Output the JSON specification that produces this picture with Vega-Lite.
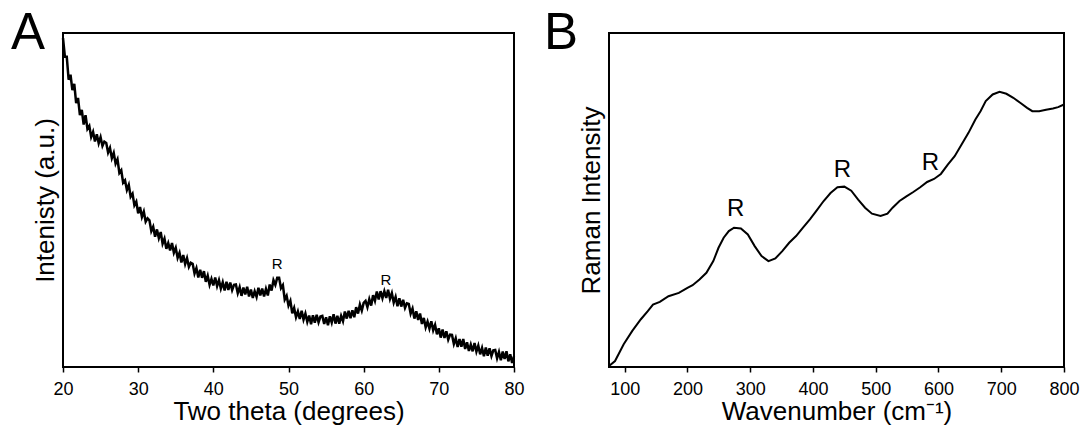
{
  "$schema": "https://vega.github.io/schema/vega-lite/v6.json",
  "padding": {"left": 10, "top": 7, "right": 5, "bottom": 5},
  "background": "white",
  "bounds": "flush",
  "spacing": 95,
  "config": {
    "font": "Liberation Sans",
    "view": {"stroke": "black", "strokeWidth": 2},
    "axis": {"labelFont": "Liberation Sans", "titleFont": "Liberation Sans", "labelColor": "black", "titleColor": "black", "titleFontWeight": "normal", "tickColor": "black", "tickWidth": 1.5, "domain": false, "grid": false, "labelFlush": false, "labelOverlap": false},
    "title": {"font": "Liberation Sans", "color": "black", "fontWeight": "normal"}
  },
  "hconcat": [
    {
      "width": 451,
      "height": 334,
      "title": {"text": "A", "fontSize": 51, "anchor": "start", "frame": "group", "baseline": "alphabetic", "offset": -53, "dx": -52, "dy": 14},
      "layer": [
        {
          "data": {"values": [
            {"t":20.00,"i":98.5},{"t":20.25,"i":92.9},{"t":20.50,"i":92.9},{"t":20.75,"i":86.0},{"t":21.00,"i":87.5},{"t":21.25,"i":82.9},{"t":21.50,"i":84.8},{"t":21.75,"i":79.0},{"t":22.00,"i":80.6},{"t":22.25,"i":75.4},{"t":22.50,"i":77.0},{"t":22.75,"i":72.6},{"t":23.00,"i":75.4},
            {"t":23.25,"i":71.3},{"t":23.50,"i":72.2},{"t":23.75,"i":68.9},{"t":24.00,"i":70.4},{"t":24.25,"i":67.5},{"t":24.50,"i":69.7},{"t":24.75,"i":67.0},{"t":25.00,"i":68.8},{"t":25.25,"i":66.2},{"t":25.50,"i":67.5},
            {"t":25.75,"i":67.1},{"t":26.00,"i":64.2},{"t":26.25,"i":65.6},{"t":26.50,"i":62.5},{"t":26.75,"i":64.1},{"t":27.00,"i":60.9},{"t":27.25,"i":62.2},{"t":27.50,"i":58.1},{"t":27.75,"i":58.9},{"t":28.00,"i":55.2},{"t":28.25,"i":55.9},{"t":28.50,"i":53.0},
            {"t":28.75,"i":54.5},{"t":29.00,"i":51.0},{"t":29.25,"i":51.9},{"t":29.50,"i":48.4},{"t":29.75,"i":49.5},{"t":30.00,"i":46.0},{"t":30.25,"i":47.9},{"t":30.50,"i":44.9},{"t":30.75,"i":46.5},{"t":31.00,"i":43.5},{"t":31.25,"i":44.5},
            {"t":31.50,"i":43.9},{"t":31.75,"i":40.7},{"t":32.00,"i":42.0},{"t":32.25,"i":39.0},{"t":32.50,"i":41.2},{"t":32.75,"i":38.6},{"t":33.00,"i":40.4},{"t":33.25,"i":36.9},{"t":33.50,"i":38.4},{"t":33.75,"i":35.4},{"t":34.00,"i":37.1},{"t":34.25,"i":34.9},
            {"t":34.50,"i":37.1},{"t":34.75,"i":34.2},{"t":35.00,"i":35.7},{"t":35.25,"i":32.7},{"t":35.50,"i":34.2},{"t":35.75,"i":31.3},{"t":36.00,"i":33.5},{"t":36.25,"i":30.8},{"t":36.50,"i":32.6},{"t":36.75,"i":30.0},{"t":37.00,"i":31.2},
            {"t":37.25,"i":30.9},{"t":37.50,"i":28.0},{"t":37.75,"i":29.6},{"t":38.00,"i":26.8},{"t":38.25,"i":29.1},{"t":38.50,"i":26.7},{"t":38.75,"i":28.7},{"t":39.00,"i":25.5},{"t":39.25,"i":27.3},{"t":39.50,"i":24.6},{"t":39.75,"i":26.4},{"t":40.00,"i":24.4},
            {"t":40.25,"i":26.8},{"t":40.50,"i":24.2},{"t":40.75,"i":26.0},{"t":41.00,"i":23.5},{"t":41.25,"i":25.4},{"t":41.50,"i":22.9},{"t":41.75,"i":25.5},{"t":42.00,"i":23.1},{"t":42.25,"i":25.3},{"t":42.50,"i":23.0},{"t":42.75,"i":24.6},
            {"t":43.00,"i":24.7},{"t":43.25,"i":22.1},{"t":43.50,"i":23.9},{"t":43.75,"i":21.3},{"t":44.00,"i":23.8},{"t":44.25,"i":21.7},{"t":44.50,"i":24.0},{"t":44.75,"i":21.1},{"t":45.00,"i":23.2},{"t":45.25,"i":20.7},{"t":45.50,"i":22.7},
            {"t":45.75,"i":21.0},{"t":46.00,"i":23.7},{"t":46.25,"i":21.4},{"t":46.50,"i":23.5},{"t":46.75,"i":21.1},{"t":47.00,"i":23.4},{"t":47.25,"i":21.4},{"t":47.50,"i":24.7},{"t":47.75,"i":22.9},{"t":48.00,"i":26.0},{"t":48.25,"i":24.6},{"t":48.50,"i":26.7},
            {"t":48.75,"i":26.7},{"t":49.00,"i":23.6},{"t":49.25,"i":24.5},{"t":49.50,"i":20.2},{"t":49.75,"i":21.3},{"t":50.00,"i":18.4},{"t":50.25,"i":19.8},{"t":50.50,"i":16.1},{"t":50.75,"i":17.7},{"t":51.00,"i":14.9},{"t":51.25,"i":16.6},
            {"t":51.50,"i":14.4},{"t":51.75,"i":16.8},{"t":52.00,"i":14.2},{"t":52.25,"i":16.0},{"t":52.50,"i":13.5},{"t":52.75,"i":15.4},{"t":53.00,"i":12.8},{"t":53.25,"i":15.5},{"t":53.50,"i":13.3},{"t":53.75,"i":15.6},{"t":54.00,"i":13.4},{"t":54.25,"i":15.1},
            {"t":54.50,"i":15.3},{"t":54.75,"i":12.9},{"t":55.00,"i":14.9},{"t":55.25,"i":12.5},{"t":55.50,"i":15.2},{"t":55.75,"i":13.3},{"t":56.00,"i":15.8},{"t":56.25,"i":13.0},{"t":56.50,"i":15.3},{"t":56.75,"i":13.0},{"t":57.00,"i":15.3},
            {"t":57.25,"i":13.7},{"t":57.50,"i":16.6},{"t":57.75,"i":14.5},{"t":58.00,"i":16.8},{"t":58.25,"i":14.6},{"t":58.50,"i":17.0},{"t":58.75,"i":14.9},{"t":59.00,"i":17.9},{"t":59.25,"i":16.0},{"t":59.50,"i":18.7},{"t":59.75,"i":16.9},{"t":60.00,"i":19.2},
            {"t":60.25,"i":19.8},{"t":60.50,"i":17.9},{"t":60.75,"i":20.3},{"t":61.00,"i":18.4},{"t":61.25,"i":21.5},{"t":61.50,"i":19.8},{"t":61.75,"i":22.6},{"t":62.00,"i":20.2},{"t":62.25,"i":22.7},{"t":62.50,"i":20.6},{"t":62.75,"i":22.7},
            {"t":63.00,"i":20.7},{"t":63.25,"i":23.1},{"t":63.50,"i":20.4},{"t":63.75,"i":22.1},{"t":64.00,"i":19.3},{"t":64.25,"i":21.0},{"t":64.50,"i":18.2},{"t":64.75,"i":20.6},{"t":65.00,"i":18.1},{"t":65.25,"i":20.1},{"t":65.50,"i":17.7},{"t":65.75,"i":19.1},
            {"t":66.00,"i":18.9},{"t":66.25,"i":16.0},{"t":66.50,"i":17.5},{"t":66.75,"i":14.5},{"t":67.00,"i":16.7},{"t":67.25,"i":14.1},{"t":67.50,"i":16.0},{"t":67.75,"i":12.9},{"t":68.00,"i":14.7},{"t":68.25,"i":11.9},{"t":68.50,"i":13.6},
            {"t":68.75,"i":11.5},{"t":69.00,"i":13.7},{"t":69.25,"i":11.0},{"t":69.50,"i":12.6},{"t":69.75,"i":9.8},{"t":70.00,"i":11.6},{"t":70.25,"i":8.8},{"t":70.50,"i":11.2},{"t":70.75,"i":8.7},{"t":71.00,"i":10.7},{"t":71.25,"i":8.2},{"t":71.50,"i":9.7},
            {"t":71.75,"i":9.6},{"t":72.00,"i":6.9},{"t":72.25,"i":8.6},{"t":72.50,"i":6.0},{"t":72.75,"i":8.4},{"t":73.00,"i":6.1},{"t":73.25,"i":8.4},{"t":73.50,"i":5.4},{"t":73.75,"i":7.4},{"t":74.00,"i":4.8},{"t":74.25,"i":6.7},{"t":74.50,"i":4.7},
            {"t":74.75,"i":7.2},{"t":75.00,"i":4.6},{"t":75.25,"i":6.4},{"t":75.50,"i":3.8},{"t":75.75,"i":5.7},{"t":76.00,"i":3.2},{"t":76.25,"i":5.8},{"t":76.50,"i":3.4},{"t":76.75,"i":5.6},{"t":77.00,"i":3.3},{"t":77.25,"i":5.0},
            {"t":77.50,"i":5.1},{"t":77.75,"i":2.6},{"t":78.00,"i":4.5},{"t":78.25,"i":2.0},{"t":78.50,"i":4.6},{"t":78.75,"i":2.4},{"t":79.00,"i":4.7},{"t":79.25,"i":1.7},{"t":79.50,"i":3.8},{"t":79.75,"i":1.2},{"t":80.00,"i":3.2}
          ]},
          "mark": {"type": "line", "color": "black", "strokeWidth": 2.5},
          "encoding": {
            "x": {"field": "t", "type": "quantitative", "scale": {"domain": [20, 80], "nice": false, "zero": false},
              "axis": {"title": "Two theta (degrees)", "titleFontSize": 26, "titlePadding": 0, "labelFontSize": 18, "labelPadding": 8,
                "values": [20,25,30,35,40,45,50,55,60,65,70,75,80],
                "labelExpr": "datum.value % 10 === 0 ? datum.label : ''",
                "tickSize": {"condition": {"test": "datum.value % 10 === 0", "value": 5}, "value": 3}}},
            "y": {"field": "i", "type": "quantitative", "scale": {"domain": [0, 100], "nice": false},
              "axis": {"title": "Intenisty (a.u.)", "titleFontSize": 26, "titlePadding": 5, "ticks": false, "labels": false}}
          }
        },
        {
          "data": {"values": [{"t": 48.5, "i": 30.9, "label": "R"}, {"t": 62.97, "i": 25.9, "label": "R"}]},
          "mark": {"type": "text", "fontSize": 15, "color": "black", "align": "center", "baseline": "middle"},
          "encoding": {
            "x": {"field": "t", "type": "quantitative"},
            "y": {"field": "i", "type": "quantitative"},
            "text": {"field": "label"}
          }
        }
      ]
    },
    {
      "width": 455,
      "height": 334,
      "title": {"text": "B", "fontSize": 51, "anchor": "start", "frame": "group", "baseline": "alphabetic", "offset": -53, "dx": -65, "dy": 14},
      "layer": [
        {
          "data": {"values": [
            {"w":75,"i":0.3},{"w":84.6,"i":1.8},{"w":98.4,"i":6.8},{"w":112.1,"i":10.8},{"w":125.8,"i":14.3},{"w":136.8,"i":16.7},{"w":145.1,"i":18.7},{"w":156,"i":19.5},{"w":169.8,"i":21.2},{"w":186.3,"i":22.2},
            {"w":200,"i":23.7},{"w":208.2,"i":24.5},{"w":219.2,"i":26.2},{"w":230.2,"i":28.2},{"w":241.2,"i":31.7},{"w":249.5,"i":35.7},{"w":257.7,"i":38.7},{"w":265.9,"i":40.7},{"w":274.2,"i":41.7},{"w":285.2,"i":41.5},
            {"w":296.2,"i":39.7},{"w":307.1,"i":36.2},{"w":318.1,"i":33.2},{"w":329.1,"i":31.7},{"w":340.1,"i":32.5},{"w":351.1,"i":34.7},{"w":362.1,"i":37.2},{"w":373.1,"i":39.2},{"w":384.1,"i":41.7},{"w":395.1,"i":44.2},
            {"w":406,"i":46.9},{"w":417,"i":49.7},{"w":428,"i":52.1},{"w":439,"i":53.8},{"w":450,"i":54.0},{"w":461,"i":52.8},{"w":472,"i":50.1},{"w":483,"i":47.7},{"w":494,"i":45.9},{"w":507.7,"i":45.2},
            {"w":518.7,"i":45.9},{"w":526.9,"i":47.7},{"w":537.9,"i":49.7},{"w":548.9,"i":51.1},{"w":559.9,"i":52.4},{"w":570.9,"i":53.8},{"w":581.9,"i":55.4},{"w":592.9,"i":56.3},{"w":603.8,"i":57.8},{"w":614.8,"i":60.6},
            {"w":625.8,"i":63.1},{"w":636.8,"i":66.6},{"w":647.8,"i":70.1},{"w":658.8,"i":74.1},{"w":667,"i":76.6},{"w":675.3,"i":79.6},{"w":686.3,"i":81.6},{"w":697.3,"i":82.4},{"w":708.2,"i":81.8},{"w":719.2,"i":80.6},
            {"w":730.2,"i":79.1},{"w":741.2,"i":77.6},{"w":749.5,"i":76.6},{"w":760.4,"i":76.6},{"w":771.4,"i":77.0},{"w":782.4,"i":77.4},{"w":790.7,"i":77.8},{"w":800,"i":78.6}
          ]},
          "mark": {"type": "line", "color": "black", "strokeWidth": 2},
          "encoding": {
            "x": {"field": "w", "type": "quantitative", "scale": {"domain": [75, 800], "nice": false, "zero": false},
              "axis": {"title": "Wavenumber (cm⁻¹)", "titleFontSize": 26, "titlePadding": 0, "labelFontSize": 18, "labelPadding": 8,
                "values": [100,150,200,250,300,350,400,450,500,550,600,650,700,750,800],
                "labelExpr": "datum.value % 100 === 0 ? datum.label : ''",
                "tickSize": {"condition": {"test": "datum.value % 100 === 0", "value": 5}, "value": 3}}},
            "y": {"field": "i", "type": "quantitative", "scale": {"domain": [0, 100], "nice": false},
              "axis": {"title": "Raman Intensity", "titleFontSize": 26, "titlePadding": 5, "ticks": false, "labels": false}}
          }
        },
        {
          "data": {"values": [{"w": 277, "i": 47.2, "label": "R"}, {"w": 447, "i": 59.1, "label": "R"}, {"w": 587, "i": 61.1, "label": "R"}]},
          "mark": {"type": "text", "fontSize": 24, "color": "black", "align": "center", "baseline": "middle"},
          "encoding": {
            "x": {"field": "w", "type": "quantitative"},
            "y": {"field": "i", "type": "quantitative"},
            "text": {"field": "label"}
          }
        }
      ]
    }
  ]
}
